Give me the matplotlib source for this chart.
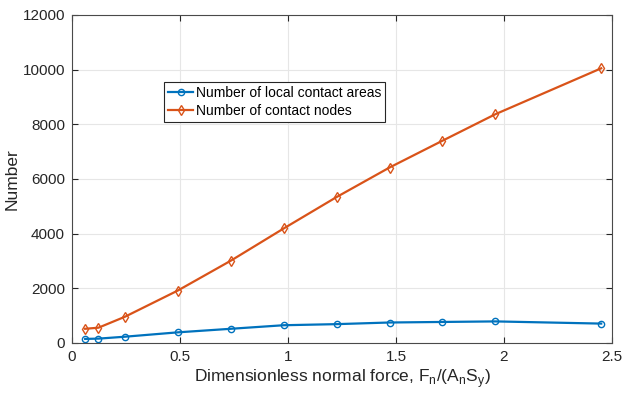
import matplotlib
matplotlib.use("Agg")
import matplotlib.pyplot as plt

plt.rcParams['font.family'] = ['Liberation Sans', 'DejaVu Sans']
plt.rcParams['mathtext.fontset'] = 'custom'
plt.rcParams['mathtext.rm'] = 'Liberation Sans'

# dimensionless normal force values
force = [0.061, 0.1225, 0.245, 0.49, 0.735, 0.98, 1.225, 1.47, 1.715, 1.96, 2.45]
local_areas = [150, 160, 230, 390, 520, 650, 690, 750, 770, 790, 710]
contact_nodes = [520, 560, 960, 1920, 3010, 4190, 5340, 6420, 7400, 8370, 10050]

x_ticks = [0, 0.5, 1, 1.5, 2, 2.5]
x_labels = ["0", "0.5", "1", "1.5", "2", "2.5"]
y_ticks = [0, 2000, 4000, 6000, 8000, 10000, 12000]

fig = plt.figure(figsize=(6.24, 3.96), dpi=100)
ax = fig.add_axes([72 / 624, 1 - 343 / 396, 540 / 624, 328 / 396])

ax.plot(force, local_areas, color="#0072BD", lw=1.6, marker="o", ms=4.5,
        mfc="none", mew=1.0, label="Number of local contact areas")
ax.plot(force, contact_nodes, color="#D95319", lw=1.6, marker="d", ms=5,
        mfc="none", mew=1.0, label="Number of contact nodes")

ax.set_xlim(0, 2.5)
ax.set_ylim(0, 12000)
ax.set_xticks(x_ticks, x_labels)
ax.set_yticks(y_ticks)
ax.grid(True, color="#e6e6e6", lw=0.8)
ax.set_axisbelow(True)
ax.tick_params(direction="in", top=True, right=True, labelsize=11,
               colors="#262626", length=4, pad=5)
for s in ax.spines.values():
    s.set_color("#4a4a4a")
    s.set_linewidth(0.8)

ax.set_xlabel(r"Dimensionless normal force, F$_\mathrm{n}$/(A$_\mathrm{n}$S$_\mathrm{y}$)",
              fontsize=12.5, color="#262626", labelpad=2)
ax.set_ylabel("Number", fontsize=12.5, color="#262626")
ax.yaxis.set_label_coords(-0.097, 0.5)

leg = ax.legend(loc="upper left", bbox_to_anchor=(92 / 540, 261 / 328),
                fontsize=10, fancybox=False, framealpha=1, edgecolor="#262626",
                handlelength=1.8, handletextpad=0.2, borderpad=0.3,
                labelspacing=0.25, borderaxespad=0)
leg.get_frame().set_linewidth(0.8)

fig.savefig("out.png", dpi=100)
